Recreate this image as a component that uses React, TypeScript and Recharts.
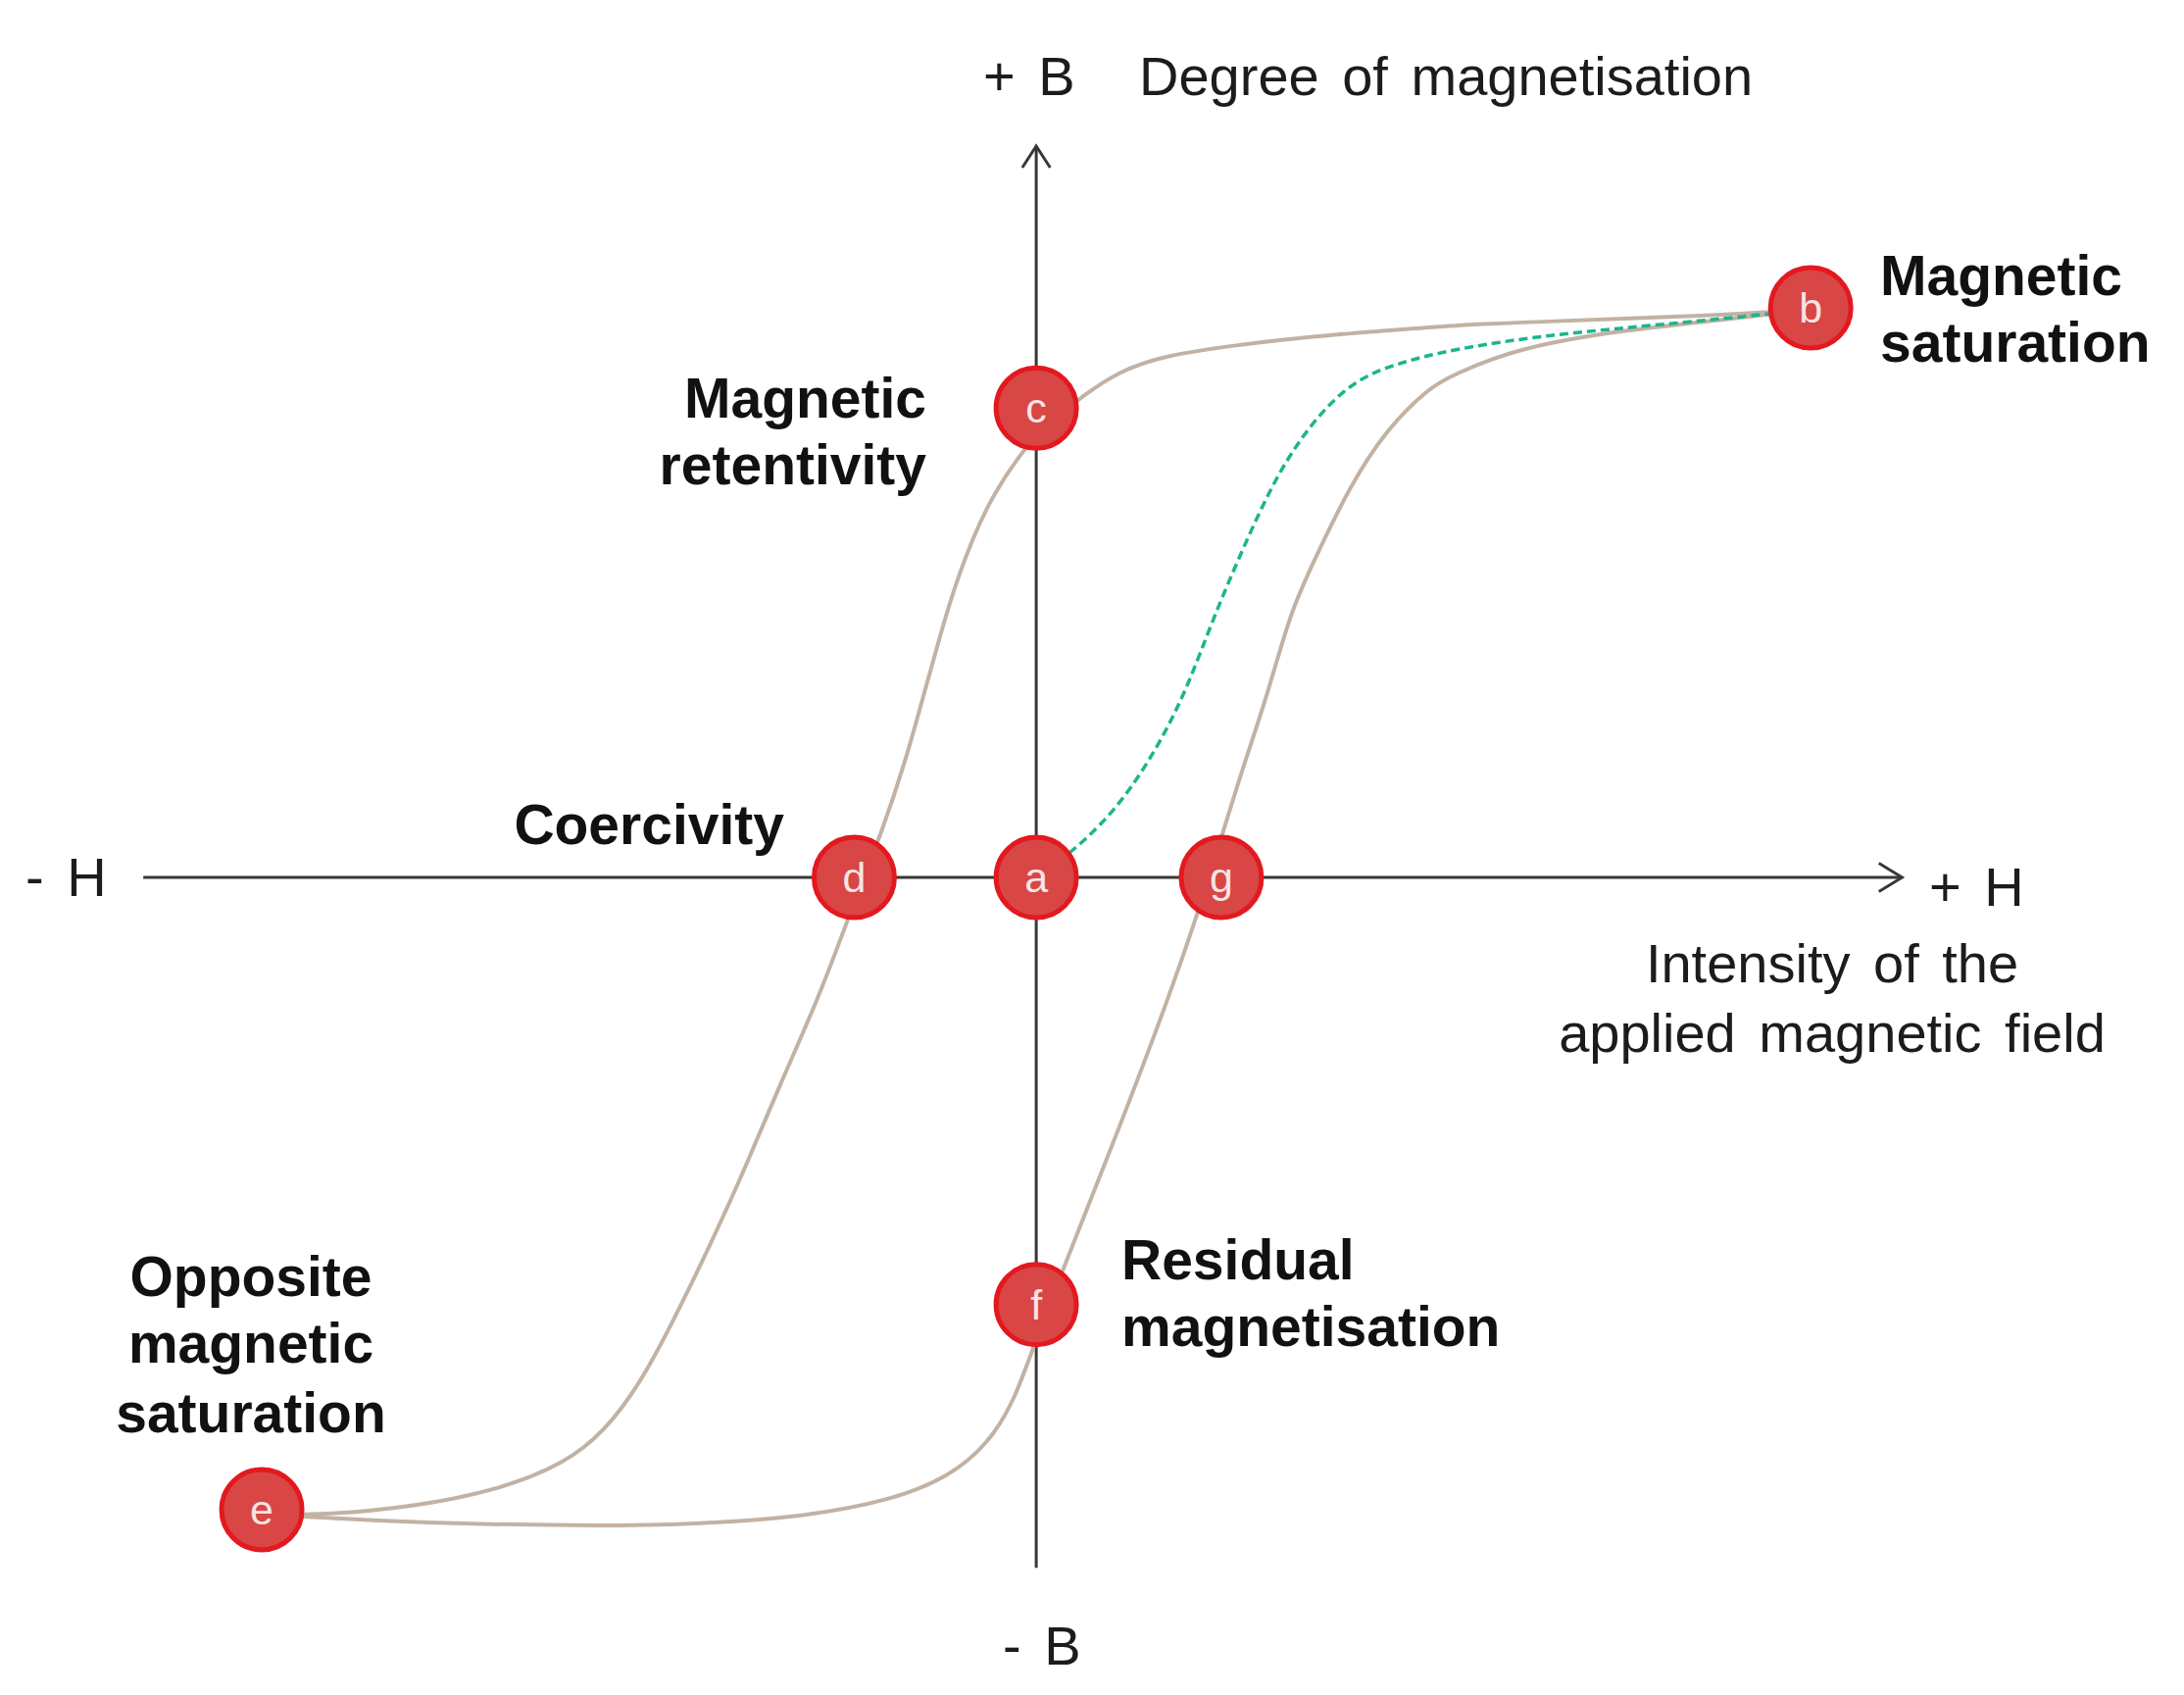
import React from 'react';
import { ComposedChart, Line, Scatter, XAxis, YAxis, Customized } from 'recharts';

const CHART_W = 2228;
const CHART_H = 1729;

// Domains (H = applied field, B = magnetisation), saturation point b = (1, 1)
const H_DOMAIN = [-1.338, 1.482];
const B_DOMAIN = [-1.4355, 1.5404];

// Axis extents in data units
const H_AXIS = [-1.153, 1.118];
const B_AXIS = [-1.212, 1.284];

// Upper (descending) branch: e -> d -> c -> b, sorted by H
const descendingH = [-1.0, -0.913, -0.804, -0.695, -0.608, -0.557, -0.513, -0.47, -0.419, -0.375, -0.332, -0.282, -0.244, -0.223, -0.201, -0.17, -0.144, -0.123, -0.103, -0.065, -0.02, 0, 0.029, 0.062, 0.105, 0.163, 0.261, 0.357, 0.454, 0.535, 0.654, 0.872, 1.0];
const descendingB = [-1.119, -1.119, -1.105, -1.076, -1.029, -0.972, -0.892, -0.783, -0.64, -0.508, -0.367, -0.215, -0.077, 0, 0.074, 0.198, 0.327, 0.43, 0.522, 0.654, 0.744, 0.775, 0.811, 0.847, 0.887, 0.916, 0.935, 0.95, 0.96, 0.969, 0.976, 0.986, 0.997];

// Lower (ascending) branch: e -> f -> g -> b
const ascendingH = [-1.0, -0.913, -0.804, -0.586, -0.441, -0.295, -0.186, -0.113, -0.062, -0.027, 0, 0.044, 0.11, 0.17, 0.205, 0.223, 0.242, 0.268, 0.299, 0.328, 0.357, 0.405, 0.454, 0.509, 0.535, 0.618, 0.763, 0.89, 1.0];
const ascendingB = [-1.119, -1.124, -1.133, -1.139, -1.136, -1.122, -1.093, -1.053, -0.995, -0.916, -0.809, -0.656, -0.43, -0.215, -0.077, 0, 0.083, 0.198, 0.322, 0.465, 0.551, 0.688, 0.79, 0.861, 0.88, 0.929, 0.962, 0.979, 0.997];

// Initial magnetisation curve a -> b (dashed green)
const initialH = [0, 0.052, 0.11, 0.161, 0.196, 0.228, 0.266, 0.311, 0.361, 0.415, 0.478, 0.535, 0.654, 0.837, 1.0];
const initialB = [0, 0.05, 0.129, 0.238, 0.336, 0.453, 0.575, 0.709, 0.809, 0.878, 0.907, 0.926, 0.952, 0.974, 0.997];

// Marked points
const pointLabels = ['a', 'b', 'c', 'd', 'e', 'f', 'g'];
const pointH = [0, 1.0, 0, -0.235, -1.0, 0, 0.239];
const pointB = [0, 1.0, 0.824, 0, -1.11, -0.75, 0];

const zip = (hs: number[], bs: number[]) => hs.map((h, i) => ({ h, b: bs[i] }));

const descendingData = zip(descendingH, descendingB);
const ascendingData = zip(ascendingH, ascendingB);
const initialData = zip(initialH, initialB);
const pointData = pointLabels.map((label, i) => ({ h: pointH[i], b: pointB[i], label }));

const hAxisData = [{ h: H_AXIS[0], b: 0 }, { h: H_AXIS[1], b: 0 }];
const bAxisData = [{ h: 0, b: B_AXIS[0] }, { h: 0, b: B_AXIS[1] }];

// arrowheads (size in data units)
const AH_LEN = 0.03;
const AH_HALF = 0.025;
const AV_LEN = 0.038;
const AV_HALF = 0.018;
const hArrow = [
  { h: H_AXIS[1] - AH_LEN, b: AH_HALF },
  { h: H_AXIS[1], b: 0 },
  { h: H_AXIS[1] - AH_LEN, b: -AH_HALF },
];
const bArrow = [
  { h: -AV_HALF, b: B_AXIS[1] - AV_LEN },
  { h: 0, b: B_AXIS[1] },
  { h: AV_HALF, b: B_AXIS[1] - AV_LEN },
];

const FONT = '"Liberation Sans", Arial, Helvetica, sans-serif';
const AXIS_COLOR = '#383838';
const LOOP_COLOR = '#c2b2a3';
const GREEN = '#1cb58e';

const PointMarker = (props: any) => {
  const { cx, cy, payload } = props;
  if (cx == null || cy == null) return null;
  return (
    <g>
      <circle cx={cx} cy={cy} r={41} fill="#d84646" stroke="#e3191f" strokeWidth={5} />
      <text
        x={cx}
        y={cy + 15}
        textAnchor="middle"
        fontFamily={FONT}
        fontSize={43}
        fill="#f7e4e4"
      >
        {payload.label}
      </text>
    </g>
  );
};

const regular = { fontFamily: FONT, fontSize: 56, fill: '#1c1c1c', wordSpacing: 8 } as const;
const bold = { fontFamily: FONT, fontSize: 57, fill: '#111111', fontWeight: 700 } as const;

const Annotations = () => (
  <g>
    <text x={1003} y={97} {...regular}>+ B</text>
    <text x={1162} y={97} {...regular}>Degree of magnetisation</text>
    <text x={1023} y={1698} {...regular}>- B</text>
    <text x={26} y={914} {...regular}>- H</text>
    <text x={1968} y={924} {...regular}>+ H</text>
    <text x={1869} y={1002} textAnchor="middle" {...regular}>Intensity of the</text>
    <text x={1869} y={1073} textAnchor="middle" {...regular}>applied magnetic field</text>

    <text x={945} y={426} textAnchor="end" {...bold}>Magnetic</text>
    <text x={945} y={494} textAnchor="end" {...bold}>retentivity</text>
    <text x={1918} y={301} {...bold}>Magnetic</text>
    <text x={1918} y={369} {...bold}>saturation</text>
    <text x={800} y={861} textAnchor="end" {...bold}>Coercivity</text>
    <text x={256} y={1322} textAnchor="middle" {...bold}>Opposite</text>
    <text x={256} y={1390} textAnchor="middle" {...bold}>magnetic</text>
    <text x={256} y={1461} textAnchor="middle" {...bold}>saturation</text>
    <text x={1144} y={1305} {...bold}>Residual</text>
    <text x={1144} y={1373} {...bold}>magnetisation</text>
  </g>
);

export default function App() {
  return (
    <div style={{ position: 'absolute', left: 0, top: 0, width: CHART_W, height: CHART_H, background: '#ffffff' }}>
      <ComposedChart width={CHART_W} height={CHART_H} margin={{ top: 0, right: 0, bottom: 0, left: 0 }}>
        <XAxis type="number" dataKey="h" domain={H_DOMAIN} hide allowDataOverflow />
        <YAxis type="number" dataKey="b" domain={B_DOMAIN} hide allowDataOverflow />

        <Line data={hAxisData} dataKey="b" type="linear" stroke={AXIS_COLOR} strokeWidth={3} dot={false} activeDot={false} isAnimationActive={false} />
        <Line data={bAxisData} dataKey="b" type="linear" stroke={AXIS_COLOR} strokeWidth={3} dot={false} activeDot={false} isAnimationActive={false} />
        <Line data={hArrow} dataKey="b" type="linear" stroke={AXIS_COLOR} strokeWidth={3} dot={false} activeDot={false} isAnimationActive={false} />
        <Line data={bArrow} dataKey="b" type="linear" stroke={AXIS_COLOR} strokeWidth={3} dot={false} activeDot={false} isAnimationActive={false} />

        <Line data={descendingData} dataKey="b" type="basis" stroke={LOOP_COLOR} strokeWidth={4} dot={false} activeDot={false} isAnimationActive={false} />
        <Line data={ascendingData} dataKey="b" type="basis" stroke={LOOP_COLOR} strokeWidth={4} dot={false} activeDot={false} isAnimationActive={false} />
        <Line data={initialData} dataKey="b" type="basis" stroke={GREEN} strokeWidth={3.5} strokeDasharray="9 5" dot={false} activeDot={false} isAnimationActive={false} />

        <Scatter data={pointData} dataKey="b" shape={<PointMarker />} isAnimationActive={false} />

        <Customized component={<Annotations />} />
      </ComposedChart>
    </div>
  );
}
